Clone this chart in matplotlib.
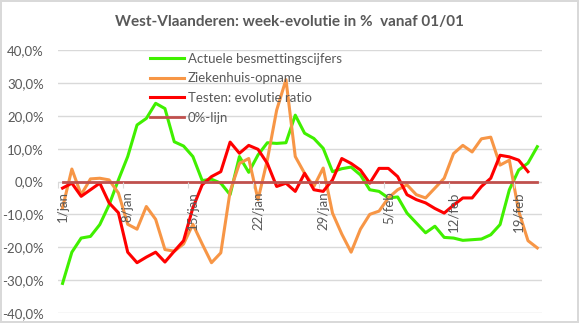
import numpy as np
import matplotlib.pyplot as plt
from matplotlib.ticker import FuncFormatter

# week-evolutie (%) per dag, 1 jan .. 21 feb
dagen = ['1/jan', '8/jan', '15/jan', '22/jan', '29/jan', '5/feb', '12/feb', '19/feb']

besmettingen = [-31, -21.5, -17.2, -16.7, -13.1, -7.1, 0.5, 7.6, 17.2, 19.2,
                23.8, 22.2, 12.1, 10.8, 7.6, 0.3, 0.7, -0.5, -4.0, 7.6,
                2.8, 8.1, 11.8, 11.6, 11.8, 20.2, 14.7, 13.1, 10.1, 3.0,
                3.9, 4.4, 2.0, -2.5, -3.0, -5.0, -4.7, -9.6, -12.6, -15.6,
                -13.6, -17.0, -17.2, -17.9, -17.7, -17.5, -16.2, -13.1, -2.5, 3.5,
                5.6, 10.6]

ziekenhuis = [-8, 3.8, -4, 0.8, 1.0, 0.5, -3.5, -13, -14.5, -7.6,
              -11.5, -20.7, -21.2, -19, -13, -19, -24.7, -21.7, -3, 5.5,
              7, -5.5, 6.6, 21.7, 31, 7.6, 2.5, -1.5, 4.1, -9.6,
              -16, -21.5, -14.5, -10, -9, -5, -2.5, -1, -4, -5,
              -2, 1.0, 8.5, 11, 9, 13, 13.5, 5, 6.5, -9,
              -18, -20.2]

testen = [-2, -0.5, -4.5, -2.5, -0.5, -6.5, -9.5, -21.5, -24.7, -23,
          -21.5, -24.5, -21.2, -18, -8, -1, 1.5, 3, 12, 8.6,
          11, 9.8, 5.5, -1.5, -0.5, -3, 2.5, -2.5, -3, 0.5,
          7, 5.5, 3.5, -0.5, 4, 4, 1.5, -4, -5.5, -6.5,
          -8.2, -9.6, -7.2, -5, -5, -1.5, 1, 8, 7.5, 6.5,
          3]

nul_lijn = [0] * len(besmettingen)

plt.rcParams['font.family'] = ['Lato', 'DejaVu Sans']
grijs = '#595959'

fig = plt.figure(figsize=(5.79, 3.23), dpi=100)
fig.patch.set_edgecolor('#D9D9D9')
fig.patch.set_linewidth(1.5)
ax = fig.add_axes([0.100, 0.031, 0.836, 0.814])

yticks = np.arange(-40, 41, 10)
for yt in yticks:
    ax.axhline(yt, color='#D9D9D9', lw=1, zorder=0)

x = np.arange(len(besmettingen))
ax.plot(x, besmettingen, color='#40F000', lw=2.2, label='Actuele besmettingscijfers', zorder=2)
ax.plot(x, ziekenhuis, color='#F79646', lw=2.2, label='Ziekenhuis-opname', zorder=2.1)
ax.plot(np.arange(len(testen)), testen, color='#FF0000', lw=2.2, label='Testen: evolutie ratio', zorder=2.2)
ax.plot(x, nul_lijn, color='#C0504D', lw=2.0, label='0%-lijn', zorder=2.3)

ax.set_xlim(-0.5, len(besmettingen) - 0.5)
ax.set_ylim(-40, 40)
ax.set_yticks(yticks)
ax.yaxis.set_major_formatter(FuncFormatter(lambda v, p: f'{v:.1f}%'.replace('.', ',')))

# labels in het midden van de categorie, streepjes op de grenzen
ax.set_xticks(np.arange(0, len(besmettingen), 7) - 0.5)
ax.set_xticklabels([])
ax.set_xticks(np.arange(0, len(besmettingen), 7), minor=True)
ax.set_xticklabels(dagen, minor=True)
ax.tick_params(axis='x', which='major', length=4, color='#D9D9D9')
ax.tick_params(axis='x', which='minor', length=0, pad=7, labelsize=9.5,
               labelcolor=grijs, labelrotation=90)
for lab in ax.get_xticklabels(minor=True):
    lab.set_va('top')
    lab.set_ha('center')
ax.tick_params(axis='y', length=0, pad=10, labelsize=9.5, labelcolor=grijs)
ax.xaxis.set_zorder(5)

ax.spines['bottom'].set_position(('data', 0))
for s in ['top', 'right', 'left', 'bottom']:
    ax.spines[s].set_visible(False)

leg = ax.legend(loc='upper left', bbox_to_anchor=(0.165, 1.035), frameon=False,
                fontsize=9.5, handlelength=2.6, handletextpad=0.3, labelspacing=0.58)
leg.set_zorder(6)
for t in leg.get_texts():
    t.set_color(grijs)

fig.suptitle('West-Vlaanderen: week-evolutie in %  vanaf 01/01', x=0.5, y=0.955,
             fontsize=11, fontweight='bold', color=grijs)

fig.savefig('out.png', dpi=100)
